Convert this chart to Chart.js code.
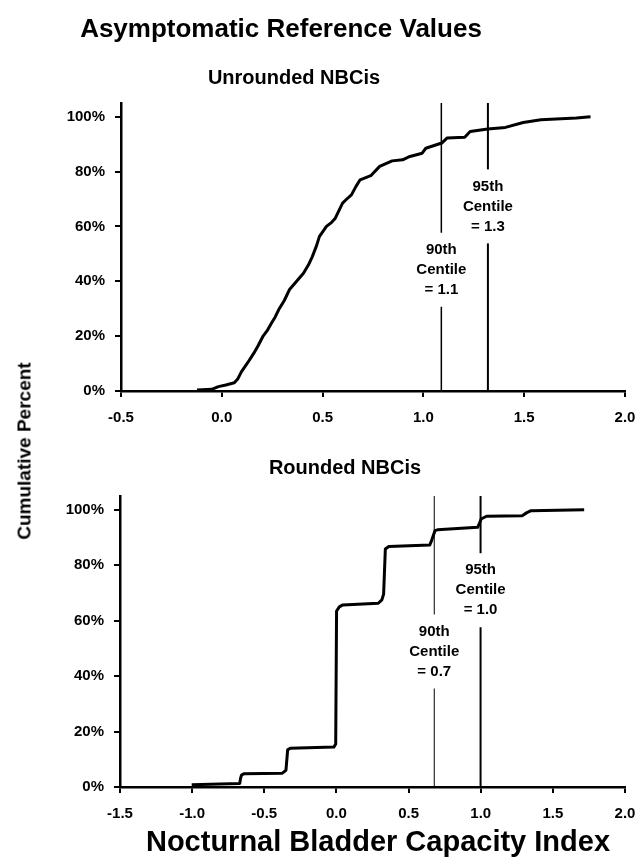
<!DOCTYPE html>
<html>
<head>
<meta charset="utf-8">
<script src="https://cdn.jsdelivr.net/npm/chart.js@4.4.1/dist/chart.umd.min.js"></script>
<style>
body { margin: 0; background: #fff; }
#wrap { position: relative; width: 636px; height: 859px; overflow: hidden; font-family: "Liberation Sans", Arial, sans-serif; font-weight: bold; color: #000; }
canvas { position: absolute; left: 0; }
.txt { position: absolute; white-space: nowrap; line-height: 1; transform: translateX(-50%); }
.ytitle { position: absolute; white-space: nowrap; line-height: 1; transform: translate(-50%, -50%) rotate(-90deg); }
</style>
</head>
<body>
<div id="wrap">
  <canvas id="topChart" width="636" height="430" style="top:0"></canvas>
  <canvas id="botChart" width="636" height="429" style="top:430px"></canvas>
  <div class="txt" style="left:281px; top:15px; font-size:26px">Asymptomatic Reference Values</div>
  <div class="txt" style="left:294px; top:67px; font-size:20px">Unrounded NBCis</div>
  <div class="txt" style="left:345px; top:457px; font-size:20px">Rounded NBCis</div>
  <div class="ytitle" style="left:24px; top:451px; font-size:19px">Cumulative Percent</div>
  <div class="txt" style="left:378px; top:827px; font-size:29px">Nocturnal Bladder Capacity Index</div>
</div>
<script>
// unrounded NBCi - cumulative percent
const topX = [-0.123, -0.05, -0.017, 0.02, 0.062, 0.08, 0.097, 0.13, 0.159, 0.18, 0.203, 0.225, 0.246, 0.265, 0.282, 0.31, 0.335, 0.37, 0.405, 0.43, 0.449, 0.47, 0.484, 0.519, 0.545, 0.563, 0.599, 0.62, 0.643, 0.665, 0.686, 0.739, 0.783, 0.845, 0.897, 0.933, 0.994, 1.012, 1.091, 1.117, 1.205, 1.232, 1.319, 1.407, 1.495, 1.583, 1.759, 1.829];
const topY = [0.4, 0.6, 1.6, 2.2, 3.0, 4.5, 7.0, 10.5, 13.8, 16.5, 19.8, 22.0, 24.7, 27.0, 29.6, 33.0, 36.9, 39.9, 42.9, 46.0, 49.0, 53.0, 56.3, 60.0, 61.5, 63.0, 68.5, 70.0, 71.5, 74.5, 77.0, 78.5, 81.9, 83.9, 84.3, 85.5, 86.7, 88.5, 90.4, 92.2, 92.5, 94.6, 95.5, 96.1, 97.9, 98.9, 99.5, 100];

// rounded NBCi - cumulative percent
const botX = [-1.003, -0.67, -0.665, -0.658, -0.64, -0.375, -0.35, -0.338, -0.32, -0.018, -0.005, 0.001, 0.02, 0.044, 0.29, 0.315, 0.327, 0.339, 0.363, 0.647, 0.66, 0.683, 0.70, 0.979, 0.99, 1.003, 1.04, 1.287, 1.32, 1.349, 1.717];
const botY = [0.8, 1.3, 3.0, 4.3, 4.8, 5.0, 6.0, 13.4, 14.0, 14.4, 15.5, 63.5, 65.0, 65.7, 66.3, 67.5, 69.6, 85.9, 86.8, 87.3, 89.0, 92.5, 92.8, 93.7, 95.0, 96.7, 97.7, 97.9, 99.0, 99.7, 100];

// axis ticks
const yTicks = [0, 20, 40, 60, 80, 100];

// centile markers
const centileNames = ['90th', '95th'];
const topCentiles = [1.089, 1.32];
const topCentileText = ['1.1', '1.3'];
const botCentiles = [0.678, 0.999];
const botCentileText = ['0.7', '1.0'];

const FONT = '"Liberation Sans", Arial, sans-serif';

// draws the "90th Centile = x" boxes on top of the centile lines
const centileLabels = {
    id: 'centileLabels',
    afterDatasetsDraw(chart, args, opts) {
        const ctx = chart.ctx;
        const xs = chart.scales.x, ys = chart.scales.y;
        ctx.save();
        ctx.font = 'bold 15px ' + FONT;
        ctx.textAlign = 'center';
        ctx.textBaseline = 'middle';
        opts.items.forEach(it => {
            const px = xs.getPixelForValue(it.x);
            const py = ys.getPixelForValue(it.y);
            const w = Math.max(...it.lines.map(l => ctx.measureText(l).width)) + 6;
            const h = it.lines.length * 20 + 14;
            ctx.fillStyle = '#fff';
            ctx.fillRect(px - w / 2, py - h / 2, w, h);
            ctx.fillStyle = '#000';
            it.lines.forEach((l, i) => ctx.fillText(l, px, py + (i - (it.lines.length - 1) / 2) * 20));
        });
        ctx.restore();
    }
};

function makeChart(id, xs, ys, centiles, centileText, labelY, lineWidths, xMin, area) {
    const curve = xs.map((x, i) => ({ x: x, y: ys[i] }));
    const datasets = [{
        data: curve, borderColor: '#000', borderWidth: 3, pointRadius: 0,
        tension: 0, fill: false, borderJoinStyle: 'round'
    }];
    centiles.forEach((c, i) => datasets.push({
        data: [{ x: c, y: 0 }, { x: c, y: 105 }],
        borderColor: '#000', borderWidth: lineWidths[i], pointRadius: 0, fill: false
    }));
    const items = centiles.map((c, i) => ({
        x: c, y: labelY[i], lines: [centileNames[i], 'Centile', '= ' + centileText[i]]
    }));
    const tickFont = { family: FONT, size: 15, weight: 'bold' };
    return new Chart(document.getElementById(id), {
        type: 'line',
        data: { datasets: datasets },
        plugins: [centileLabels],
        options: {
            responsive: false,
            animation: false,
            layout: { padding: { top: area.top, right: area.right, left: 0, bottom: 0 } },
            plugins: {
                legend: { display: false },
                tooltip: { enabled: false },
                centileLabels: { items: items }
            },
            scales: {
                x: {
                    type: 'linear', min: xMin, max: 2.0,
                    ticks: { stepSize: 0.5, callback: v => v.toFixed(1), font: tickFont, color: '#000', padding: 12, maxRotation: 0, autoSkip: false },
                    grid: { display: true, drawOnChartArea: false, drawTicks: true, tickLength: 6, color: '#000', lineWidth: 2 },
                    border: { display: true, color: '#000', width: 2.5 },
                    afterFit: s => { s.height = area.xh; s.paddingLeft = 0; s.paddingRight = 0; }
                },
                y: {
                    min: 0, max: 105,
                    ticks: { callback: v => v + '%', font: tickFont, color: '#000', padding: 10 },
                    afterBuildTicks: s => { s.ticks = yTicks.map(v => ({ value: v })); },
                    grid: { display: true, drawOnChartArea: false, drawTicks: true, tickLength: 6, color: '#000', lineWidth: 2 },
                    border: { display: true, color: '#000', width: 2.5 },
                    afterFit: s => { s.width = area.yw; }
                }
            }
        }
    });
}

makeChart('topChart', topX, topY, topCentiles, topCentileText, [44.2, 67.3], [1.5, 2], -0.5,
    { top: 103, right: 11, yw: 121, xh: 39 });
makeChart('botChart', botX, botY, botCentiles, botCentileText, [48.9, 71.0], [1, 2], -1.5,
    { top: 66, right: 11, yw: 120, xh: 72 });
</script>
</body>
</html>
